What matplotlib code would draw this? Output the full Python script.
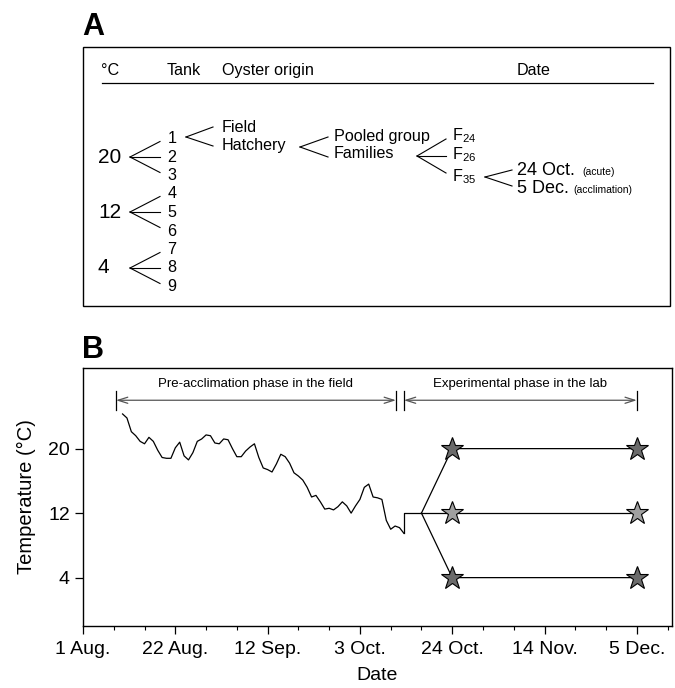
import numpy as np
import matplotlib
matplotlib.use("Agg")
import matplotlib.pyplot as plt

plt.rcParams['font.family'] = ['Liberation Sans', 'DejaVu Sans']

# ---------------- data ----------------
field_start_day = 9  # days after 1 Aug.
field_temps = [24.3, 23.8, 22.1, 21.6, 20.9, 20.6, 21.4, 20.9, 19.8, 18.9,
               18.8, 18.8, 20.1, 20.8, 19.1, 18.6, 19.5, 20.9, 21.2, 21.7,
               21.6, 20.7, 20.6, 21.2, 21.1, 20.0, 19.0, 19.0, 19.7, 20.2,
               20.6, 18.9, 17.6, 17.4, 17.1, 18.1, 19.3, 19.0, 18.2, 17.0,
               16.6, 16.1, 15.2, 14.0, 14.2, 13.4, 12.5, 12.6, 12.4, 12.8,
               13.4, 12.9, 12.0, 12.9, 13.7, 15.2, 15.6, 14.0, 13.9, 13.7,
               11.1, 10.0, 10.4, 10.2, 9.5]
lab_days = [73, 73, 77]
lab_temps = [9.5, 12, 12]
branch_day = 77
branch_temp = 12
sample_days = [84, 126]
treat_temps = [20, 12, 4]
star_colors = ['#6b6b6b', '#a0a0a0', '#6b6b6b']
xtick_days = [0, 21, 42, 63, 84, 105, 126]
xtick_labels = ['1 Aug.', '22 Aug.', '12 Sep.', '3 Oct.', '24 Oct.', '14 Nov.', '5 Dec.']
ytick_vals = [4, 12, 20]
field_phase = (7.5, 71.2)
lab_phase = (73, 126)

W, H = 675, 688
fig = plt.figure(figsize=(W / 100, H / 100), dpi=100)

# ---------------- panel A (diagram, pixel coords) ----------------
axA = fig.add_axes([0, 0, 1, 1])
axA.set_xlim(0, W)
axA.set_ylim(H, 0)
axA.axis('off')

fsA = 11.6
def t(x, y, s, fs=fsA, ha='left', **kw):
    axA.text(x, y, s, fontsize=fs, va='baseline', ha=ha, **kw)

axA.add_patch(plt.Rectangle((83, 47), 587, 259, fill=False, lw=1.0, ec='black'))
axA.plot([102, 653], [83, 83], color='black', lw=0.9)
t(101, 75, '°C')
t(167, 75, 'Tank')
t(222, 75, 'Oyster origin')
t(517, 75, 'Date')

def fork(x0, y0, x1, ys):
    for y in ys:
        axA.plot([x0, x1], [y0, y], color='black', lw=0.8)

temps_rows = [('20', 163, 157), ('12', 218, 212), ('4', 273, 268)]
for lab, yb, yc in temps_rows:
    t(98, yb, lab, fs=15)
    fork(130, yc, 160, [yc - 15.5, yc, yc + 15.5])

for i in range(9):
    t(172, 143 + 18.5 * i, str(i + 1), ha='center')

fork(186, 137, 213, [127, 146])
t(222, 132, 'Field')
t(222, 150, 'Hatchery')

fork(300, 147, 328, [137, 157])
t(334, 141, 'Pooled group')
t(334, 158, 'Families')

fork(417, 156, 446, [139, 156, 173])
for sub, yb in [('24', 140), ('26', 159), ('35', 181)]:
    t(452, yb, r'F$_{\mathregular{' + sub + '}}$')

fork(485, 177, 512, [170, 186])
t(517, 175, '24 Oct.', fs=13)
t(582, 175, '(acute)', fs=7.5)
t(517, 193, '5 Dec.', fs=13)
t(573, 193, '(acclimation)', fs=7.5)

axA.text(82, 27, 'A', fontsize=22, fontweight='bold', va='center', ha='left')
axA.text(82, 350, 'B', fontsize=22, fontweight='bold', va='center', ha='left')

# ---------------- panel B ----------------
left, right, top, bottom = 83, 672, 368, 626
axB = fig.add_axes([left / W, 1 - bottom / H, (right - left) / W, (bottom - top) / H])
axB.set_xlim(0, 134)
axB.set_ylim(-2, 30)

fdays = np.arange(len(field_temps)) + field_start_day
axB.plot(fdays, field_temps, color='black', lw=0.9)
axB.plot(lab_days, lab_temps, color='black', lw=0.9)
for T, c in zip(treat_temps, star_colors):
    axB.plot([branch_day, sample_days[0], sample_days[1]],
             [branch_temp, T, T], color='black', lw=0.9, zorder=2)
    axB.plot(sample_days, [T, T], linestyle='none', marker='*', ms=17,
             mfc=c, mec='black', mew=0.8, zorder=3)

# phase arrows
ay = 26.0
for (x0, x1), lab in [(field_phase, 'Pre-acclimation phase in the field'),
                      (lab_phase, 'Experimental phase in the lab')]:
    axB.annotate('', xy=(x1, ay), xytext=(x0, ay),
                 arrowprops=dict(arrowstyle='<->,head_length=0.7,head_width=0.22',
                                 color='#555555', lw=0.9,
                                 shrinkA=0, shrinkB=0))
    axB.plot([x0, x0], [ay - 1.2, ay + 1.2], color='black', lw=0.9)
    axB.plot([x1, x1], [ay - 1.2, ay + 1.2], color='black', lw=0.9)
    axB.text((x0 + x1) / 2, 28.0, lab, fontsize=9.5, ha='center', va='center')

axB.set_xticks(xtick_days)
axB.set_xticklabels(xtick_labels, fontsize=14)
axB.set_xticks(np.arange(0, 134, 7), minor=True)
axB.set_yticks(ytick_vals)
axB.set_yticklabels([str(v) for v in ytick_vals], fontsize=14)
axB.tick_params(axis='both', which='major', direction='out', length=6, width=0.9)
axB.tick_params(axis='x', which='major', pad=5)
axB.tick_params(axis='x', which='minor', direction='out', length=3, width=0.8)
axB.set_xlabel('Date', fontsize=14, labelpad=6)
axB.set_ylabel('Temperature (°C)', fontsize=14.5, labelpad=9)
for s in axB.spines.values():
    s.set_linewidth(1.0)

fig.savefig('out.png', dpi=100)
